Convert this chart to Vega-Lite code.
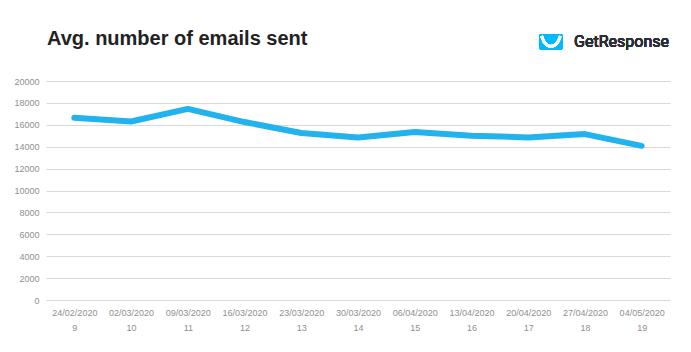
{
  "$schema": "https://vega.github.io/schema/vega-lite/v6.json",
  "width": 691,
  "height": 352,
  "autosize": {"type": "fit", "contains": "padding"},
  "padding": {"left": 13, "right": 21, "top": 28, "bottom": 20},
  "background": "white",
  "title": {
    "text": "Avg. number of emails sent",
    "anchor": "start",
    "frame": "group",
    "fontSize": 20,
    "fontWeight": "bold",
    "font": "Liberation Sans",
    "color": "#222222",
    "dx": 1,
    "offset": -17
  },
  "config": {
    "view": {"stroke": null},
    "font": "Liberation Sans"
  },
  "data": {
    "values": [
      {"label": "24/02/2020\n9", "emails": 16640},
      {"label": "02/03/2020\n10", "emails": 16300},
      {"label": "09/03/2020\n11", "emails": 17450},
      {"label": "16/03/2020\n12", "emails": 16250},
      {"label": "23/03/2020\n13", "emails": 15250},
      {"label": "30/03/2020\n14", "emails": 14850},
      {"label": "06/04/2020\n15", "emails": 15350},
      {"label": "13/04/2020\n16", "emails": 15000},
      {"label": "20/04/2020\n17", "emails": 14850},
      {"label": "27/04/2020\n18", "emails": 15150},
      {"label": "04/05/2020\n19", "emails": 14080}
    ]
  },
  "encoding": {
    "x": {
      "field": "label",
      "type": "ordinal",
      "sort": null,
      "scale": {"type": "point", "padding": 0.5},
      "axis": {
        "title": null,
        "labelAngle": 0,
        "labelExpr": "split(datum.value, '\\n')",
        "labelLineHeight": 15,
        "labelFontSize": 9,
        "labelColor": "#8f8f8f",
        "labelPadding": 8,
        "ticks": false,
        "domain": false,
        "grid": false
      }
    },
    "y": {
      "field": "emails",
      "type": "quantitative",
      "scale": {"domain": [0, 20000], "nice": false},
      "axis": {
        "title": null,
        "values": [0, 2000, 4000, 6000, 8000, 10000, 12000, 14000, 16000, 18000, 20000],
        "format": "d",
        "labelFontSize": 9,
        "labelColor": "#8f8f8f",
        "labelPadding": 7,
        "ticks": false,
        "domain": false,
        "gridColor": "#d9d9d9",
        "gridWidth": 1
      }
    }
  },
  "layer": [
    {
      "mark": {"type": "line", "color": "#22B2EE", "strokeWidth": 6, "strokeCap": "round", "strokeJoin": "round"}
    },
    {
      "mark": {
        "type": "point",
        "filled": true,
        "clip": false,
        "shape": "M-0.9,-0.65 L0.9,-0.65 Q1,-0.65 1,-0.55 L1,0.55 Q1,0.65 0.9,0.65 L-0.9,0.65 Q-1,0.65 -1,0.55 L-1,-0.55 Q-1,-0.65 -0.9,-0.65 Z",
        "size": 529,
        "color": "#00BAFF",
        "opacity": 1
      },
      "encoding": {
        "x": {"value": "width"},
        "xOffset": {"value": -119},
        "y": {"datum": 20000, "type": "quantitative"},
        "yOffset": {"value": -39}
      }
    },
    {
      "mark": {
        "type": "point",
        "filled": false,
        "clip": false,
        "shape": "M-0.78,-0.42 C-0.45,0.65 0.45,0.65 0.78,-0.42",
        "size": 529,
        "color": "white",
        "strokeWidth": 2.6,
        "strokeCap": "round",
        "opacity": 1
      },
      "encoding": {
        "x": {"value": "width"},
        "xOffset": {"value": -119},
        "y": {"datum": 20000, "type": "quantitative"},
        "yOffset": {"value": -39}
      }
    },
    {
      "mark": {
        "type": "text",
        "text": "GetResponse",
        "font": "Roboto",
        "fontSize": 16,
        "fontWeight": "normal",
        "color": "#2a2e3a",
        "align": "right",
        "baseline": "middle",
        "clip": false,
        "dx": -1,
        "dy": -39
      },
      "encoding": {
        "x": {"value": "width"},
        "y": {"datum": 20000, "type": "quantitative"}
      }
    }
  ]
}
